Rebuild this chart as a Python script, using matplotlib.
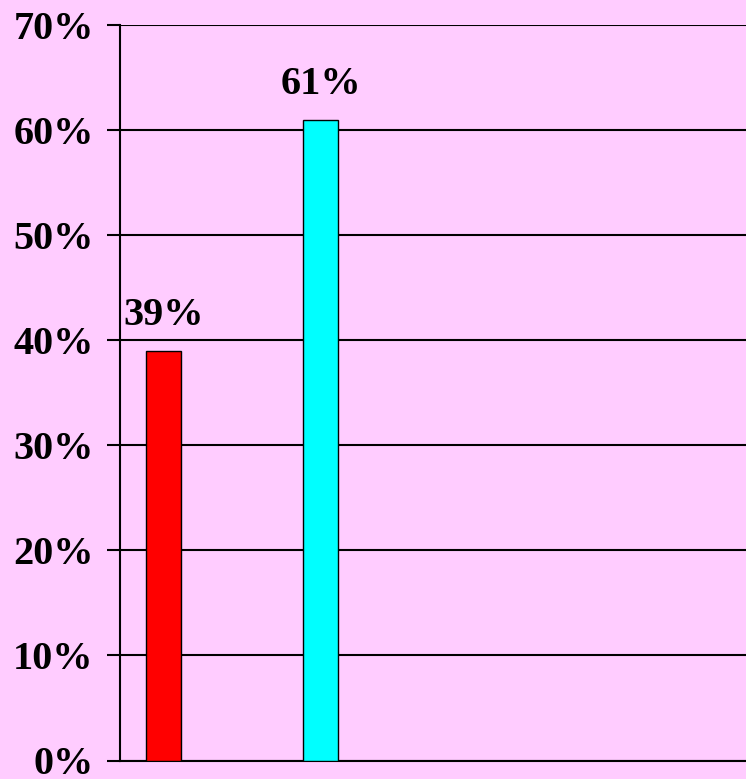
import matplotlib.pyplot as plt
from matplotlib.ticker import FuncFormatter

# data
categories = ['A', 'B']
values = [39, 61]
bar_colors = ['#FF0000', '#00FFFF']
y_ticks = [0, 10, 20, 30, 40, 50, 60, 70]

BG = '#FFCCFF'

fig = plt.figure(figsize=(7.46, 7.79), dpi=100, facecolor=BG)
ax = fig.add_axes([120 / 746, 18.5 / 779, 626 / 746, 735.5 / 779])
ax.set_facecolor(BG)

pos = list(range(len(categories)))
bars = ax.bar(pos, values, width=0.223, color=bar_colors,
              edgecolor='black', linewidth=1.0, zorder=3)

# value labels above bars
for b, v in zip(bars, values):
    ax.annotate(f"{v}%", (b.get_x() + b.get_width() / 2, v),
                textcoords='offset points', xytext=(0, 12), ha='center',
                va='bottom', fontsize=29, fontweight='bold',
                family='Liberation Serif', color='black')

ax.set_xlim(-0.28, 3.707)
ax.set_ylim(0, 70)
ax.set_yticks(y_ticks)
ax.yaxis.set_major_formatter(FuncFormatter(lambda y, _: f"{int(y)}%"))
ax.set_xticks([])

ax.grid(axis='y', color='black', linewidth=1.5, zorder=0)
ax.tick_params(axis='y', length=9.4, width=1.5, pad=9.5, color='black')
for lbl in ax.get_yticklabels():
    lbl.set_fontsize(29)
    lbl.set_fontweight('bold')
    lbl.set_family('Liberation Serif')

for s in ['top', 'right']:
    ax.spines[s].set_visible(False)
ax.spines['left'].set_linewidth(1.5)
ax.spines['bottom'].set_linewidth(1.5)

fig.savefig('out.png', dpi=100, facecolor=BG)
